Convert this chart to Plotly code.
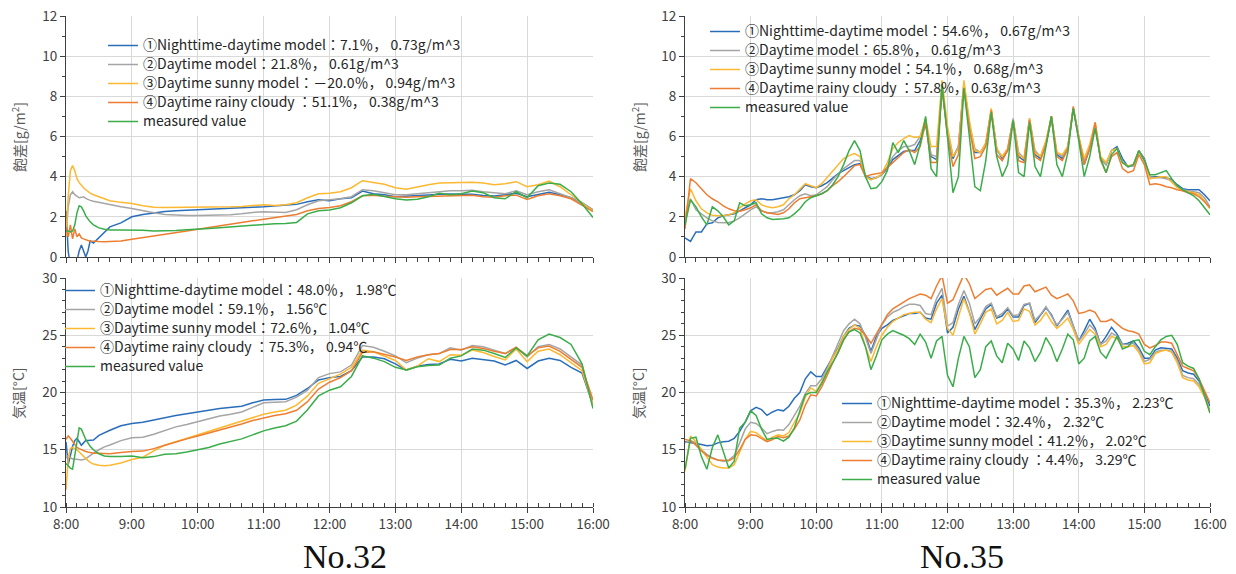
import plotly.graph_objects as go

# ---------------- time axes (minutes after 8:00) ----------------
t32 = [0, 2, 4, 6, 8, 10, 12, 14, 16, 18, 20, 22, 25, 30, 35, 40,
       50, 60, 70, 80, 90, 100, 110, 120, 130, 140, 150, 160, 170, 180, 190, 200,
       210, 220, 230, 240, 250, 260, 270, 280, 290, 300, 310, 320, 330, 340, 350,
       360, 370, 380, 390, 400, 410, 420, 430, 440, 450, 460, 470, 480]
t35 = [0, 5, 10, 15, 20, 25, 30, 35, 40, 45, 50, 55, 60, 65, 70, 75, 80, 85, 90, 95,
       100, 105, 110, 115, 120, 125, 130, 135, 140, 145, 150, 155, 160, 165, 170, 175,
       180, 185, 190, 195, 200, 205, 210, 215, 220, 225, 230, 235, 240, 245, 250, 255,
       260, 265, 270, 275, 280, 285, 290, 295, 300, 305, 310, 315, 320, 325, 330, 335,
       340, 345, 350, 355, 360, 365, 370, 375, 380, 385, 390, 395, 400, 405, 410, 415,
       420, 425, 430, 435, 440, 445, 450, 455, 460, 465, 470, 475, 480]
hour_ticks = [0, 60, 120, 180, 240, 300, 360, 420, 480]
hour_labels = ["8:00", "9:00", "10:00", "11:00", "12:00", "13:00", "14:00", "15:00", "16:00"]

# ---------------- No.32 : saturation deficit ----------------
b32v = [2.3, 0.3, -0.5, -0.5, -0.3, -0.2, 0.3, 0.6, 0.3, 0.0, 0.3, 0.8, 0.7, 0.95, 1.2, 1.5,
        1.7, 2.0, 2.12, 2.2, 2.26, 2.3, 2.33, 2.35, 2.37, 2.39, 2.42, 2.45, 2.48, 2.5, 2.55, 2.58,
        2.62, 2.75, 2.85, 2.8, 2.9, 2.95, 3.28, 3.15, 3.1, 3.0, 3.02, 3.06, 3.09, 3.12, 3.14,
        3.12, 3.12, 3.06, 3.04, 3.1, 3.17, 3.0, 3.1, 3.22, 3.1, 2.95, 2.7, 2.35]
g32v = [1.0, 2.5, 3.1, 3.25, 3.1, 3.0, 2.95, 2.97, 3.0, 2.92, 2.85, 2.82, 2.78, 2.72, 2.66, 2.6,
        2.5, 2.42, 2.3, 2.2, 2.12, 2.08, 2.07, 2.07, 2.07, 2.07, 2.1, 2.15, 2.22, 2.25, 2.24, 2.22,
        2.35, 2.6, 2.8, 2.84, 2.9, 3.0, 3.35, 3.3, 3.2, 3.1, 3.1, 3.15, 3.2, 3.25, 3.3,
        3.3, 3.32, 3.25, 3.2, 3.15, 3.3, 3.1, 3.25, 3.35, 3.15, 2.95, 2.65, 2.35]
y32v = [1.0, 3.0, 4.3, 4.55, 4.3, 3.9, 3.7, 3.55, 3.45, 3.35, 3.25, 3.18, 3.1, 3.0, 2.9, 2.8,
        2.72, 2.66, 2.55, 2.48, 2.47, 2.47, 2.47, 2.47, 2.48, 2.48, 2.5, 2.52, 2.57, 2.6, 2.57, 2.6,
        2.7, 2.95, 3.15, 3.17, 3.25, 3.45, 3.8, 3.72, 3.62, 3.45, 3.37, 3.48, 3.6, 3.68, 3.7,
        3.7, 3.72, 3.68, 3.6, 3.65, 3.75, 3.5, 3.6, 3.78, 3.5, 3.1, 2.7, 2.3]
o32v = [1.5, 1.0, 1.6, 0.9, 1.4, 1.0, 1.15, 0.95, 0.9, 0.85, 0.82, 0.8, 0.78, 0.77, 0.76, 0.77,
        0.8, 0.88, 0.97, 1.05, 1.13, 1.22, 1.3, 1.38, 1.47, 1.56, 1.64, 1.72, 1.8, 1.88, 1.95, 2.02,
        2.12, 2.3, 2.42, 2.47, 2.55, 2.75, 3.05, 3.08, 3.02, 3.0, 2.98, 3.0, 3.02, 3.05, 3.05,
        3.08, 3.08, 3.0, 2.98, 3.05, 3.08, 2.87, 3.05, 3.15, 3.05, 2.9, 2.6, 2.26]
m32v = [1.3, 1.3, 1.25, 1.3, 1.6, 2.2, 2.55, 2.5, 2.3, 2.05, 1.9, 1.75, 1.6, 1.45, 1.38, 1.35,
        1.35, 1.35, 1.33, 1.3, 1.3, 1.32, 1.36, 1.38, 1.42, 1.46, 1.5, 1.55, 1.6, 1.65, 1.66, 1.67,
        1.72, 2.15, 2.3, 2.34, 2.45, 2.7, 3.05, 3.12, 3.0, 2.9, 2.84, 2.88, 3.0, 3.17, 3.1,
        3.15, 3.28, 3.2, 2.95, 2.9, 3.25, 2.95, 3.55, 3.68, 3.62, 3.25, 2.65, 1.97]

# ---------------- No.32 : air temperature ----------------
b32t = [15.7, 13.7, 14.5, 15.3, 15.8, 16.0, 15.7, 15.4, 15.6, 15.8, 15.8, 15.8, 15.85, 16.25, 16.5, 16.7,
        17.1, 17.3, 17.4, 17.6, 17.85, 18.0, 18.15, 18.27, 18.45, 18.6, 18.72, 18.8, 19.1, 19.35, 19.38, 19.4,
        19.75, 20.35, 21.1, 21.3, 21.4, 21.9, 23.1, 23.1, 22.95, 22.5, 21.96, 22.3, 22.45, 22.5, 22.9,
        22.75, 23.0, 22.9, 22.75, 22.4, 22.8, 22.1, 22.75, 22.98, 22.8, 22.2, 21.7, 18.9]
g32t = [14.3, 14.5, 14.3, 14.2, 14.2, 14.15, 14.1, 14.1, 14.15, 14.2, 14.35, 14.5, 14.7, 15.0, 15.25, 15.42,
        15.8, 16.05, 16.1, 16.35, 16.7, 17.0, 17.2, 17.45, 17.7, 17.95, 18.1, 18.3, 18.7, 19.1, 19.15, 19.2,
        19.6, 20.2, 21.3, 21.65, 21.8, 22.4, 24.1, 23.95, 23.6, 23.2, 22.6, 23.0, 23.3, 23.4, 23.9,
        23.7, 24.1, 24.0, 23.7, 23.4, 23.9, 23.1, 24.0, 24.2, 23.8, 23.1, 22.4, 18.75]
y32t = [11.5, 14.2, 15.1, 15.2, 15.1, 15.0, 14.8, 14.6, 14.4, 14.2, 14.05, 13.9, 13.75, 13.65, 13.6, 13.65,
        13.85, 14.15, 14.35, 14.9, 15.4, 15.7, 16.0, 16.3, 16.6, 16.9, 17.15, 17.45, 17.8, 18.1, 18.3, 18.45,
        18.9, 19.7, 20.8, 21.2, 21.6, 22.2, 23.7, 23.55, 23.2, 22.8, 21.96, 22.3, 22.95, 22.7, 23.3,
        23.26, 23.7, 23.5, 23.15, 22.85, 23.8, 22.7, 23.6, 23.8, 23.3, 22.6, 21.9, 18.9]
o32t = [15.9, 16.2, 16.0, 15.7, 15.4, 15.2, 15.1, 15.0, 14.95, 14.85, 14.8, 14.75, 14.7, 14.7, 14.65, 14.65,
        14.75, 14.85, 14.88, 15.1, 15.4, 15.7, 15.95, 16.2, 16.45, 16.7, 16.95, 17.25, 17.55, 17.8, 18.0, 18.15,
        18.45, 19.2, 20.3, 20.9, 21.3, 21.9, 23.5, 23.55, 23.35, 23.1, 22.8, 23.1, 23.3, 23.4, 23.75,
        23.75, 24.0, 23.85, 23.6, 23.4, 23.95, 23.2, 23.9, 24.05, 23.6, 22.9, 22.2, 19.33]
m32t = [13.8, 13.6, 13.4, 13.3, 14.5, 16.0, 16.9, 16.8, 16.3, 15.9, 15.6, 15.3, 15.0, 14.65, 14.45, 14.4,
        14.42, 14.45, 14.3, 14.4, 14.6, 14.65, 14.8, 15.0, 15.2, 15.5, 15.7, 15.95, 16.3, 16.65, 16.9, 17.1,
        17.5, 18.5, 19.7, 20.2, 20.5, 21.4, 23.2, 23.0, 22.7, 22.2, 21.96, 22.25, 22.35, 22.4, 23.0,
        23.2, 23.8, 23.7, 23.4, 23.06, 23.9, 23.2, 24.6, 25.1, 24.8, 24.2, 22.5, 18.6]

# ---------------- No.35 : saturation deficit ----------------
b35v = [0.95, 0.78, 1.25, 1.25, 1.65, 1.7, 1.95, 2.05, 2.1, 2.15,
        2.3, 2.45, 2.6, 2.85, 2.9, 2.85, 2.85, 2.9, 2.95, 3.0,
        3.1, 3.3, 3.6, 3.5, 3.45, 3.55, 3.7, 3.95, 4.15, 4.3,
        4.45, 4.6, 4.65, 4.05, 3.9, 3.95, 4.1, 4.4, 4.85, 5.05,
        5.25, 5.3, 5.3, 5.8, 6.6, 5.0, 4.85, 8.4, 6.2, 4.9,
        5.5, 8.6, 6.5, 5.2, 5.2, 5.6, 7.3, 5.4, 4.9, 5.3,
        6.8, 5.0, 4.8, 6.8, 5.1, 4.9, 5.6, 6.9, 5.1, 4.9,
        5.4, 7.4, 5.9, 4.6, 5.4, 6.5, 4.9, 4.6, 5.3, 5.5,
        4.9, 4.5, 4.55, 5.3, 4.9, 4.0, 4.0, 4.0, 3.95, 3.85,
        3.6, 3.4, 3.35, 3.35, 3.35, 3.1, 2.8]
g35v = [1.9, 2.9, 2.35, 2.15, 1.95, 1.8, 1.72, 1.7, 1.72, 1.8,
        1.95, 2.15, 2.35, 2.5, 2.3, 2.2, 2.2, 2.25, 2.35, 2.6,
        2.85, 3.05, 3.15, 3.05, 3.1, 3.3, 3.5, 3.85, 4.1, 4.4,
        4.6, 4.8, 4.8, 4.0, 3.85, 3.95, 4.1, 4.5, 5.0, 5.3,
        5.5, 5.5, 5.6, 6.0, 6.8, 5.1, 5.0, 8.5, 6.3, 5.0,
        5.5, 8.6, 6.6, 5.4, 5.2, 5.6, 7.3, 5.3, 5.0, 5.4,
        6.9, 5.2, 4.9, 6.9, 5.3, 5.0, 5.7, 7.0, 5.2, 5.0,
        5.5, 7.4, 5.9, 4.8, 5.4, 6.6, 4.9, 4.6, 5.3, 5.4,
        4.7, 4.5, 4.55, 5.3, 4.8, 4.0, 3.95, 3.95, 3.9, 3.8,
        3.5, 3.35, 3.3, 3.25, 3.2, 2.95, 2.5]
y35v = [2.0, 3.4, 2.8, 2.4, 2.2, 2.08, 2.05, 2.05, 2.1, 2.2,
        2.45, 2.65, 2.8, 2.85, 2.6, 2.5, 2.45, 2.5, 2.6, 2.9,
        3.1, 3.4, 3.65, 3.55, 3.45, 3.65, 3.95, 4.3, 4.6, 4.9,
        5.05, 5.15, 5.0, 4.0, 3.85, 3.95, 4.15, 4.7, 5.4, 5.7,
        5.9, 6.05, 5.95, 6.0, 6.9, 5.5, 5.5, 8.8, 6.5, 5.0,
        5.4, 8.8, 6.8, 5.3, 5.2, 5.7, 7.4, 5.4, 5.0, 5.4,
        6.8, 5.1, 4.9, 6.9, 5.2, 5.0, 5.8, 7.0, 5.2, 5.1,
        5.5, 7.4, 6.0, 4.9, 5.6, 6.7, 5.0, 4.7, 5.3, 5.4,
        4.7, 4.55, 4.6, 5.3, 4.8, 3.9, 3.95, 4.0, 4.0, 3.75,
        3.45, 3.3, 3.25, 3.2, 3.1, 2.8, 2.4]
o35v = [1.4, 3.9, 3.7, 3.4, 3.1, 2.9, 2.75, 2.55, 2.4, 2.3,
        2.28, 2.35, 2.45, 2.6, 2.3, 2.2, 2.15, 2.12, 2.2, 2.4,
        2.7, 2.9, 2.95, 3.0, 3.05, 3.15, 3.3, 3.55, 3.75, 4.0,
        4.3, 4.55, 4.6, 4.0, 4.1, 4.15, 4.2, 4.45, 4.7, 5.0,
        5.2, 5.35, 5.2, 5.5, 6.7, 4.7, 4.7, 8.4, 6.0, 4.5,
        5.1, 8.4, 6.4, 4.9, 5.0, 5.5, 7.3, 5.1, 4.8, 5.3,
        6.8, 4.8, 4.7, 6.8, 5.0, 4.8, 5.6, 7.0, 5.0, 4.8,
        5.4, 7.5, 5.9, 4.6, 5.4, 6.7, 4.8, 4.2, 5.0, 5.2,
        4.4, 4.2, 4.3, 5.1, 4.6, 3.6, 3.65, 3.6, 3.5, 3.45,
        3.35, 3.3, 3.2, 3.15, 3.0, 2.75, 2.45]
m35v = [1.6, 2.85, 2.5, 2.0, 1.6, 2.5, 2.3, 2.0, 1.6, 1.8,
        2.7, 2.55, 2.6, 2.7, 2.15, 1.95, 1.87, 1.87, 1.9, 1.95,
        2.15, 2.4, 2.75, 2.95, 3.05, 3.15, 3.3, 3.6, 4.0, 4.6,
        5.3, 5.8, 5.3, 4.0, 3.4, 3.45, 3.75, 4.3, 5.7, 5.2,
        5.8, 5.3, 4.6, 5.6, 7.0, 4.4, 4.0, 8.6, 6.0, 3.2,
        4.0, 8.4, 6.0, 3.5, 3.3, 4.8, 7.2, 5.0, 4.0, 4.6,
        6.8, 4.2, 4.0, 6.7, 4.5, 4.0, 5.5, 7.0, 4.6, 4.0,
        5.2, 7.4, 5.8, 4.0, 5.0, 6.4, 4.9, 4.2, 5.1, 5.4,
        4.7, 4.5, 4.6, 5.3, 4.8, 4.1, 4.1, 4.2, 4.3, 3.9,
        3.55, 3.35, 3.2, 3.05, 2.8, 2.45, 2.1]

# ---------------- No.35 : air temperature ----------------
b35t = [15.7, 15.65, 15.55, 15.45, 15.35, 15.4, 15.6, 15.7, 15.75, 16.0,
        16.6, 17.4, 18.4, 18.7, 18.5, 18.0, 18.3, 18.5, 18.4, 18.8,
        19.5, 20.0, 21.2, 21.8, 21.4, 21.4, 22.2, 23.0, 23.9, 24.9,
        25.6, 25.9, 25.8, 25.0, 23.6, 24.9, 25.6, 25.9, 26.3, 26.5,
        26.7, 26.9, 26.9, 27.0, 26.5, 26.4, 27.8, 28.5, 25.2, 25.7,
        27.3, 28.4, 27.0, 25.5, 26.4, 27.3, 27.7, 26.5, 26.7, 27.3,
        26.6, 26.6, 27.6, 27.8, 26.1, 26.7, 27.4, 26.8, 25.8, 26.5,
        27.2, 25.8, 24.5, 25.4, 26.4, 25.6, 24.2, 24.9, 25.7, 25.1,
        24.2, 24.3, 24.5, 23.9, 23.0, 23.0, 23.7, 23.9, 23.85, 23.8,
        23.0, 21.9, 21.7, 21.6, 21.0, 20.0, 18.8]
g35t = [15.6, 15.8, 15.6, 15.0, 14.6, 14.3, 14.1, 14.0, 14.1, 14.5,
        15.6, 16.8, 17.4, 17.3, 16.9, 16.4, 16.6, 16.75, 16.7, 17.2,
        18.0, 18.8, 19.9, 20.6, 20.6, 21.2, 22.1, 23.2, 24.2, 25.4,
        26.0, 26.4, 26.0, 24.8, 23.4, 24.6, 25.9, 26.6, 27.0, 27.2,
        27.5, 27.7, 27.7, 27.6, 26.9, 26.8, 28.2, 29.1, 25.8, 26.1,
        27.7, 28.9, 27.8, 26.0, 26.6, 27.5, 27.8, 26.6, 26.9, 27.4,
        26.7, 26.8, 27.7, 27.8, 26.3, 26.8, 27.5, 26.7, 25.9, 26.4,
        27.0, 25.8, 24.5, 25.1, 25.9, 25.4, 24.2, 24.5, 25.2, 24.9,
        24.2, 24.2, 24.3, 23.7, 22.7, 22.9, 23.5, 23.7, 23.7, 23.6,
        22.8, 21.5, 21.3, 21.2, 20.7, 19.8, 18.4]
y35t = [13.1, 16.2, 15.7, 15.0, 14.3, 13.7, 13.5, 13.4, 13.4, 13.7,
        14.8, 15.9, 16.6, 16.5, 16.1, 15.8, 16.1, 16.3, 16.2, 16.5,
        17.4, 18.2, 19.6, 20.4, 20.1, 20.9, 21.9, 23.0, 23.8, 24.9,
        25.5, 25.9, 25.6, 24.0, 22.7, 24.0, 25.0, 25.7, 26.2, 26.5,
        26.8, 26.9, 27.0, 27.0, 26.4, 26.1, 27.3, 28.2, 25.6, 25.0,
        26.6, 28.2, 27.0, 25.1, 26.0, 27.0, 27.3, 26.0, 26.3, 27.0,
        26.2, 26.3, 27.3, 27.1, 25.9, 26.3, 27.0, 26.2, 25.6, 26.0,
        26.5, 25.5, 24.2, 24.8, 25.5, 25.1, 24.0, 24.2, 24.9, 24.7,
        24.0, 24.0, 24.1, 23.5, 22.5, 22.6, 23.4, 23.6, 23.7, 23.5,
        22.6, 21.3, 21.1, 21.0, 20.5, 19.6, 18.2]
o35t = [15.9, 15.8, 15.4, 14.9, 14.5, 14.25, 14.1, 14.05, 14.05, 14.3,
        15.0, 15.9, 16.3, 16.25, 16.0, 15.7, 15.9, 16.15, 16.05, 16.2,
        16.8, 17.6, 18.9, 19.8, 19.7, 20.5, 21.5, 22.6, 23.5, 24.6,
        25.3, 25.6, 25.5, 25.0, 24.3, 25.1, 26.0, 26.8, 27.3, 27.6,
        27.9, 28.2, 28.4, 28.6, 28.5, 28.2, 29.3, 30.2, 27.8, 28.1,
        29.2, 30.3, 29.5, 28.2, 28.6, 29.0, 29.1, 28.5, 28.8, 29.1,
        28.6, 28.6, 29.3, 29.4, 28.8, 29.0, 29.2, 28.5, 28.2, 28.4,
        28.6, 28.0, 26.9, 27.0, 27.2, 27.0, 26.2, 26.2, 26.4, 26.0,
        25.6, 25.4, 25.3, 25.1, 24.2, 23.9, 24.1, 24.4, 24.4, 24.3,
        23.3, 22.3, 22.1, 21.9, 21.2, 20.1, 19.1]
m35t = [13.3, 16.0, 16.1, 14.4, 13.3, 15.2, 16.3, 14.8, 13.4, 14.0,
        16.9, 17.4, 18.4, 18.0, 16.8, 15.9, 16.0, 16.0, 15.75, 16.1,
        16.9, 18.4, 19.8, 20.0, 20.0, 20.8, 21.8, 22.6, 23.5, 24.6,
        25.3, 25.5, 25.2, 24.0, 22.0, 23.2, 24.6, 25.1, 25.4, 25.2,
        25.0, 24.7, 24.2, 25.1, 24.4, 23.0, 24.5, 24.9, 21.5, 20.5,
        23.0, 24.9, 24.0, 21.3, 22.0, 24.0, 24.5, 23.2, 22.6, 24.3,
        23.8, 22.8, 24.5, 23.9, 22.7, 23.5, 24.8, 24.0, 22.7, 23.8,
        25.1, 24.6, 22.5, 23.0, 24.5, 24.9, 23.5, 23.0, 24.0, 24.9,
        23.8, 24.0, 24.5, 24.6, 23.6, 23.3, 24.0, 24.6, 24.9, 25.0,
        24.2, 22.6, 22.3, 22.1, 21.2, 19.8, 18.2]

# ---------------- legend labels ----------------
names_32v = ["①Nighttime-daytime model：7.1％， 0.73g/m^3",
             "②Daytime model：21.8％， 0.61g/m^3",
             "③Daytime sunny model：－20.0％， 0.94g/m^3",
             "④Daytime rainy cloudy ：51.1%， 0.38g/m^3",
             "measured value"]
names_35v = ["①Nighttime-daytime model：54.6％， 0.67g/m^3",
             "②Daytime model：65.8％， 0.61g/m^3",
             "③Daytime sunny model：54.1％， 0.68g/m^3",
             "④Daytime rainy cloudy ：57.8%， 0.63g/m^3",
             "measured value"]
names_32t = ["①Nighttime-daytime model：48.0％， 1.98℃",
             "②Daytime model：59.1％， 1.56℃",
             "③Daytime sunny model：72.6％， 1.04℃",
             "④Daytime rainy cloudy ：75.3%， 0.94℃",
             "measured value"]
names_35t = ["①Nighttime-daytime model：35.3％， 2.23℃",
             "②Daytime model：32.4％， 2.32℃",
             "③Daytime sunny model：41.2％， 2.02℃",
             "④Daytime rainy cloudy ：4.4%， 3.29℃",
             "measured value"]

COLORS = ["#2a6ebb", "#a5a5a5", "#fbb830", "#ed7d31", "#3aad4a"]
FONT = "Noto Sans CJK JP"
W, H = 1236, 574


def px(x):
    return x / W


def py(y):
    return 1 - y / H


panels = [
    ("x", "y", "legend", t32, [b32v, g32v, y32v, o32v, m32v], names_32v),
    ("x2", "y2", "legend2", t35, [b35v, g35v, y35v, o35v, m35v], names_35v),
    ("x3", "y3", "legend3", t32, [b32t, g32t, y32t, o32t, m32t], names_32t),
    ("x4", "y4", "legend4", t35, [b35t, g35t, y35t, o35t, m35t], names_35t),
]

fig = go.Figure()
for xa, ya, leg, tt, series, names in panels:
    for s, nm, c in zip(series, names, COLORS):
        fig.add_trace(go.Scatter(x=tt, y=s,
                                 name='<span style="font-size:14px">' + nm + '</span>',
                                 mode="lines", line=dict(color=c, width=1.5),
                                 xaxis=xa, yaxis=ya, legend=leg))


def xaxis(domain, anchor, labels, tickdir):
    return dict(domain=domain, anchor=anchor, range=[0, 480], automargin=False,
                tickmode="array", tickvals=hour_ticks, ticktext=hour_labels,
                showticklabels=labels, showgrid=True, gridcolor="#d9d9d9", gridwidth=1,
                showline=True, linecolor="#404040", linewidth=1, zeroline=False,
                ticks="outside", ticklen=5, tickcolor="#404040",
                minor=dict(tickmode="linear", tick0=0, dtick=10, ticks=tickdir,
                           ticklen=4, tickcolor="#404040", showgrid=False),
                tickfont=dict(family=FONT, size=13.5, color="#404040"))


def yaxis(domain, anchor, rng, dtick):
    return dict(domain=domain, anchor=anchor, range=rng, dtick=dtick, tick0=rng[0],
                automargin=False,
                showgrid=True, gridcolor="#d9d9d9", gridwidth=1,
                showline=True, linecolor="#404040", linewidth=1, zeroline=False,
                ticks="outside", ticklen=5, tickcolor="#404040",
                minor=dict(tickmode="linear", tick0=rng[0], dtick=1, ticks="outside",
                           ticklen=3, tickcolor="#404040", showgrid=False),
                tickfont=dict(family=FONT, size=13.5, color="#404040"))


xl = [px(66), px(593)]
xr = [px(685), px(1210)]
yt = [py(257), py(16)]
yb = [py(507), py(278)]


def legend(x, y, fs):
    return dict(x=px(x), y=py(y), xanchor="left", yanchor="top",
                bgcolor="rgba(0,0,0,0)", borderwidth=0, tracegroupgap=0,
                font=dict(family=FONT, size=fs, color="#262626"))


fig.update_layout(
    width=W, height=H, margin=dict(l=0, r=0, t=0, b=0, autoexpand=False),
    paper_bgcolor="white", plot_bgcolor="white",
    xaxis=xaxis(xl, "y", False, "outside"),
    yaxis=yaxis(yt, "x", [0, 12], 2),
    xaxis2=xaxis(xr, "y2", False, "outside"),
    yaxis2=yaxis(yt, "x2", [0, 12], 2),
    xaxis3=xaxis(xl, "y3", True, "inside"),
    yaxis3=yaxis(yb, "x3", [10, 30], 5),
    xaxis4=xaxis(xr, "y4", True, "inside"),
    yaxis4=yaxis(yb, "x4", [10, 30], 5),
    legend=legend(103, 31, 11.3),
    legend2=legend(705, 17, 11.3),
    legend3=legend(60, 276, 11.8),
    legend4=legend(837, 389, 11.8),
    showlegend=True,
)

ann = [
    dict(text="飽差[g/m<sup>2</sup>]", x=px(18), y=py(137), textangle=-90,
         font=dict(family=FONT, size=14, color="#595959")),
    dict(text="飽差[g/m<sup>2</sup>]", x=px(638), y=py(137), textangle=-90,
         font=dict(family=FONT, size=14, color="#595959")),
    dict(text="気温[°C]", x=px(18), y=py(393), textangle=-90,
         font=dict(family=FONT, size=14, color="#595959")),
    dict(text="気温[°C]", x=px(638), y=py(393), textangle=-90,
         font=dict(family=FONT, size=14, color="#595959")),
    dict(text="No.32", x=px(345), y=py(556),
         font=dict(family="Liberation Serif", size=34, color="#111111")),
    dict(text="No.35", x=px(962), y=py(556),
         font=dict(family="Liberation Serif", size=34, color="#111111")),
]
for a in ann:
    a.update(xref="paper", yref="paper", showarrow=False, xanchor="center", yanchor="middle")
fig.update_layout(annotations=ann)

fig.write_html("out.html", config={"displayModeBar": False},
               post_script="document.body.style.margin='0px';document.body.style.overflow='hidden';")
